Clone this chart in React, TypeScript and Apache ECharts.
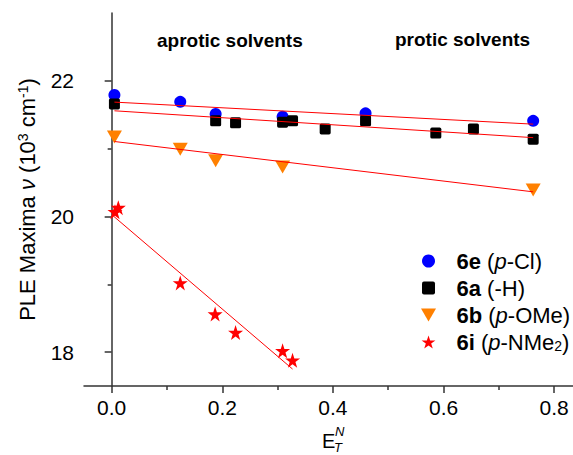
import React, { useEffect, useRef } from "react";
import * as echarts from "echarts";

const FONT = '"Liberation Sans", Arial, Helvetica, sans-serif';

// 6e (p-Cl)
const xE = [0.005, 0.124, 0.188, 0.309, 0.459, 0.762];
const yE = [21.79, 21.69, 21.51, 21.47, 21.52, 21.41];
// 6a (-H)
const xA = [0.005, 0.188, 0.224, 0.309, 0.327, 0.386, 0.459, 0.586, 0.654, 0.762];
const yA = [21.66, 21.41, 21.38, 21.39, 21.41, 21.29, 21.41, 21.23, 21.29, 21.14];
// 6b (p-OMe)
const xB = [0.005, 0.124, 0.188, 0.309, 0.762];
const yB = [21.17, 20.99, 20.82, 20.73, 20.39];
// 6i (p-NMe2)
const xI = [0.006, 0.012, 0.124, 0.187, 0.224, 0.309, 0.327];
const yI = [20.07, 20.13, 19.02, 18.56, 18.29, 18.02, 17.88];

// linear fits (end points)
const fitXE = [0.005, 0.762];
const fitYE = [21.686, 21.361];
const fitXA = [0.005, 0.762];
const fitYA = [21.558, 21.162];
const fitXB = [0.005, 0.762];
const fitYB = [21.105, 20.363];
const fitXI = [0.004, 0.327];
const fitYI = [20.0, 17.75];

const xMajor = [0, 0.2, 0.4, 0.6, 0.8];
const xMinor = [0.1, 0.3, 0.5, 0.7];
const yMajor = [18, 20, 22];
const yMinor = [19, 21];

const names = ["6e", "6a", "6b", "6i"];

const STAR =
  "path://M50,0 L61.8,35.1 L98.9,35.1 L68.8,56.8 L80.2,91.9 L50,70.2 L19.8,91.9 L31.2,56.8 L1.1,35.1 L38.2,35.1 Z";
const TRI_DOWN = "path://M0,0 L100,0 L50,86.6 Z";
const SQUARE =
  "path://M15,0 L85,0 Q100,0 100,15 L100,85 Q100,100 85,100 L15,100 Q0,100 0,85 L0,15 Q0,0 15,0 Z";

const zip = (xs: number[], ys: number[]) => xs.map((x, i) => [x, ys[i]]);

const AXIS_COLOR = "#333";

function buildOption() {
  const base = { fontFamily: FONT, fontSize: 22, color: "#000", lineHeight: 22 };
  return {
    animation: false,
    backgroundColor: "#fff",
    textStyle: { fontFamily: FONT },
    grid: { left: 84, right: 0, top: 13, bottom: 69, containLabel: false },
    xAxis: [
      {
        type: "value",
        min: -0.05,
        max: 0.834,
        position: "bottom",
        splitLine: { show: false },
        axisLine: { show: true, lineStyle: { color: AXIS_COLOR, width: 1.5 } },
        axisTick: {
          show: true,
          length: 7,
          customValues: xMajor,
          lineStyle: { color: AXIS_COLOR, width: 1.5 },
        },
        axisLabel: {
          customValues: xMajor,
          margin: 11,
          fontFamily: FONT,
          fontSize: 21,
          color: "#000",
          formatter: (v: number) => v.toFixed(1),
        },
      },
      {
        type: "value",
        min: -0.05,
        max: 0.834,
        position: "bottom",
        splitLine: { show: false },
        axisLine: { show: false },
        axisTick: {
          show: true,
          length: 4,
          customValues: xMinor,
          lineStyle: { color: AXIS_COLOR, width: 1.5 },
        },
        axisLabel: { show: false },
      },
    ],
    yAxis: [
      {
        type: "value",
        min: 17.5,
        max: 23,
        position: "left",
        splitLine: { show: false },
        axisLine: { show: true, lineStyle: { color: AXIS_COLOR, width: 1.5 } },
        axisTick: {
          show: true,
          length: 7,
          customValues: yMajor,
          lineStyle: { color: AXIS_COLOR, width: 1.5 },
        },
        axisLabel: {
          customValues: yMajor,
          margin: 10,
          fontFamily: FONT,
          fontSize: 21,
          color: "#000",
        },
        name: "PLE Maxima {i|ν} (10{sup|3} cm{sup|-1})",
        nameLocation: "middle",
        nameGap: 46,
        nameTextStyle: {
          ...base,
          rich: {
            i: { ...base, fontStyle: "italic" },
            sup: { fontFamily: FONT, fontSize: 14, color: "#000", verticalAlign: "top", lineHeight: 8 },
          },
        },
      },
      {
        type: "value",
        min: 17.5,
        max: 23,
        position: "left",
        splitLine: { show: false },
        axisLine: { show: false },
        axisTick: {
          show: true,
          length: 4,
          customValues: yMinor,
          lineStyle: { color: AXIS_COLOR, width: 1.5 },
        },
        axisLabel: { show: false },
      },
    ],
    legend: {
      orient: "vertical",
      left: 421,
      top: 250,
      padding: 0,
      itemGap: 5,
      itemWidth: 46,
      itemHeight: 13,
      data: names,
      textStyle: {
        ...base,
        rich: {
          b: { ...base, fontWeight: "bold" },
          i: { ...base, fontStyle: "italic" },
          n: { ...base },
          sub: { fontFamily: FONT, fontSize: 14, color: "#000", verticalAlign: "bottom", lineHeight: 6 },
        },
      },
      formatter: (name: string) => {
        if (name === "6e") return "{b|6e}{n| (}{i|p}{n|-Cl)}";
        if (name === "6a") return "{b|6a}{n| (-H)}";
        if (name === "6b") return "{b|6b}{n| (}{i|p}{n|-OMe)}";
        return "{b|6i}{n| (}{i|p}{n|-NMe}{sub|2}{n|)}";
      },
    },
    graphic: [
      {
        type: "text",
        left: 157,
        top: 31,
        style: { text: "aprotic solvents", fontFamily: FONT, fontSize: 19, fontWeight: "bold", fill: "#000" },
      },
      {
        type: "text",
        left: 395,
        top: 30,
        style: { text: "protic solvents", fontFamily: FONT, fontSize: 19, fontWeight: "bold", fill: "#000" },
      },
      {
        type: "text",
        left: 322,
        top: 431,
        style: { text: "E", fontFamily: FONT, fontSize: 20, fill: "#000" },
      },
      {
        type: "text",
        left: 335,
        top: 425,
        style: { text: "N", fontFamily: FONT, fontSize: 13, fontStyle: "italic", fill: "#000" },
      },
      {
        type: "text",
        left: 334,
        top: 441,
        style: { text: "T", fontFamily: FONT, fontSize: 13, fontStyle: "italic", fill: "#000" },
      },
    ],
    series: [
      {
        name: "6e",
        type: "scatter",
        symbol: "circle",
        symbolSize: 12,
        itemStyle: { color: "#0000ff", opacity: 1 },
        data: zip(xE, yE),
        z: 2,
      },
      {
        name: "6a",
        type: "scatter",
        symbol: SQUARE,
        symbolSize: 11,
        itemStyle: { color: "#000000", opacity: 1 },
        data: zip(xA, yA),
        z: 2,
      },
      {
        name: "6b",
        type: "scatter",
        symbol: TRI_DOWN,
        symbolSize: [15, 13],
        itemStyle: { color: "#ff8000", opacity: 1 },
        data: zip(xB, yB),
        z: 2,
      },
      {
        name: "6i",
        type: "scatter",
        symbol: STAR,
        symbolSize: 15,
        itemStyle: { color: "#ff0000", opacity: 1 },
        data: zip(xI, yI),
        z: 2,
      },
      ...[
        zip(fitXE, fitYE),
        zip(fitXA, fitYA),
        zip(fitXB, fitYB),
        zip(fitXI, fitYI),
      ].map((d, k) => ({
        name: "fit" + k,
        type: "line",
        data: d,
        symbol: "none",
        showSymbol: false,
        lineStyle: { color: "#ff0000", width: 1 },
        z: 3,
        silent: true,
      })),
    ],
  };
}

export default function App() {
  const ref = useRef<HTMLDivElement>(null);
  useEffect(() => {
    if (!ref.current) return;
    const chart = echarts.init(ref.current, null, { renderer: "svg" });
    chart.setOption(buildOption() as any);
    return () => chart.dispose();
  }, []);
  return (
    <div
      ref={ref}
      style={{ position: "fixed", left: 0, top: 0, width: 573, height: 455, background: "#fff" }}
    />
  );
}
